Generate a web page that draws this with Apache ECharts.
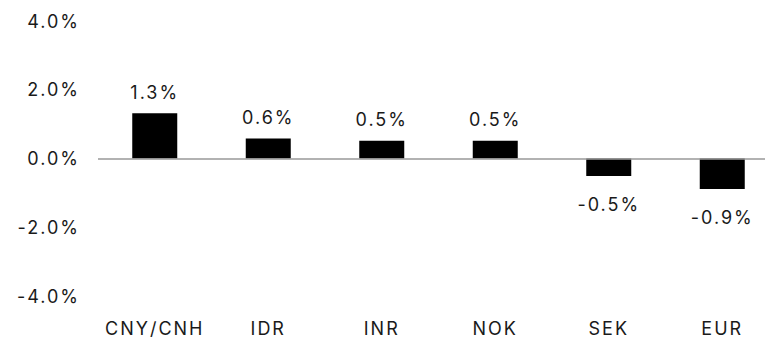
<!DOCTYPE html>
<html><head><meta charset="utf-8">
<script src="https://cdn.jsdelivr.net/npm/echarts@6/dist/echarts.min.js"></script>
<style>
html,body{margin:0;padding:0;background:#fff;overflow:hidden;width:765px;height:337px}
#c{width:780px;height:337px}
#c svg text{letter-spacing:2px}
</style>
</head><body><div id="c"></div>
<script>
var categories = ['CNY/CNH', 'IDR', 'INR', 'NOK', 'SEK', 'EUR'];
var values = [1.32, 0.58, 0.52, 0.52, -0.51, -0.89];
var yTicks = [-4, -2, 0, 2, 4];

var FONT = 'Inter';
var chart = echarts.init(document.getElementById('c'), null, {renderer: 'svg'});
var data = values.map(function (v) {
  return {
    value: v,
    label: v >= 0 ? {position: 'top', distance: 12} : {position: 'bottom', distance: 19}
  };
});
chart.setOption({
  animation: false,
  grid: {left: 98, right: 1, top: 21, bottom: 40, containLabel: false},
  xAxis: {
    type: 'category', data: categories,
    axisLine: {show: false}, axisTick: {show: false},
    axisLabel: {margin: 23, fontFamily: FONT, fontSize: 18, color: '#1a1a1a'}
  },
  yAxis: {
    type: 'value', min: yTicks[0], max: yTicks[yTicks.length - 1], interval: 2,
    axisLine: {show: false}, axisTick: {show: false}, splitLine: {show: false},
    axisLabel: {margin: 18, fontFamily: FONT, fontSize: 18, color: '#1a1a1a',
      formatter: function (v) { return v.toFixed(1) + '%'; }}
  },
  series: [{
    type: 'bar', data: data, barWidth: 45,
    itemStyle: {color: '#000'},
    label: {show: true, fontFamily: FONT, fontSize: 18, color: '#1a1a1a',
      formatter: function (p) { return p.value.toFixed(1) + '%'; }},
    markLine: {
      silent: true, symbol: 'none', label: {show: false},
      lineStyle: {color: '#999', width: 1.5, type: 'solid'},
      data: [{yAxis: 0}]
    }
  }]
});
</script></body></html>
